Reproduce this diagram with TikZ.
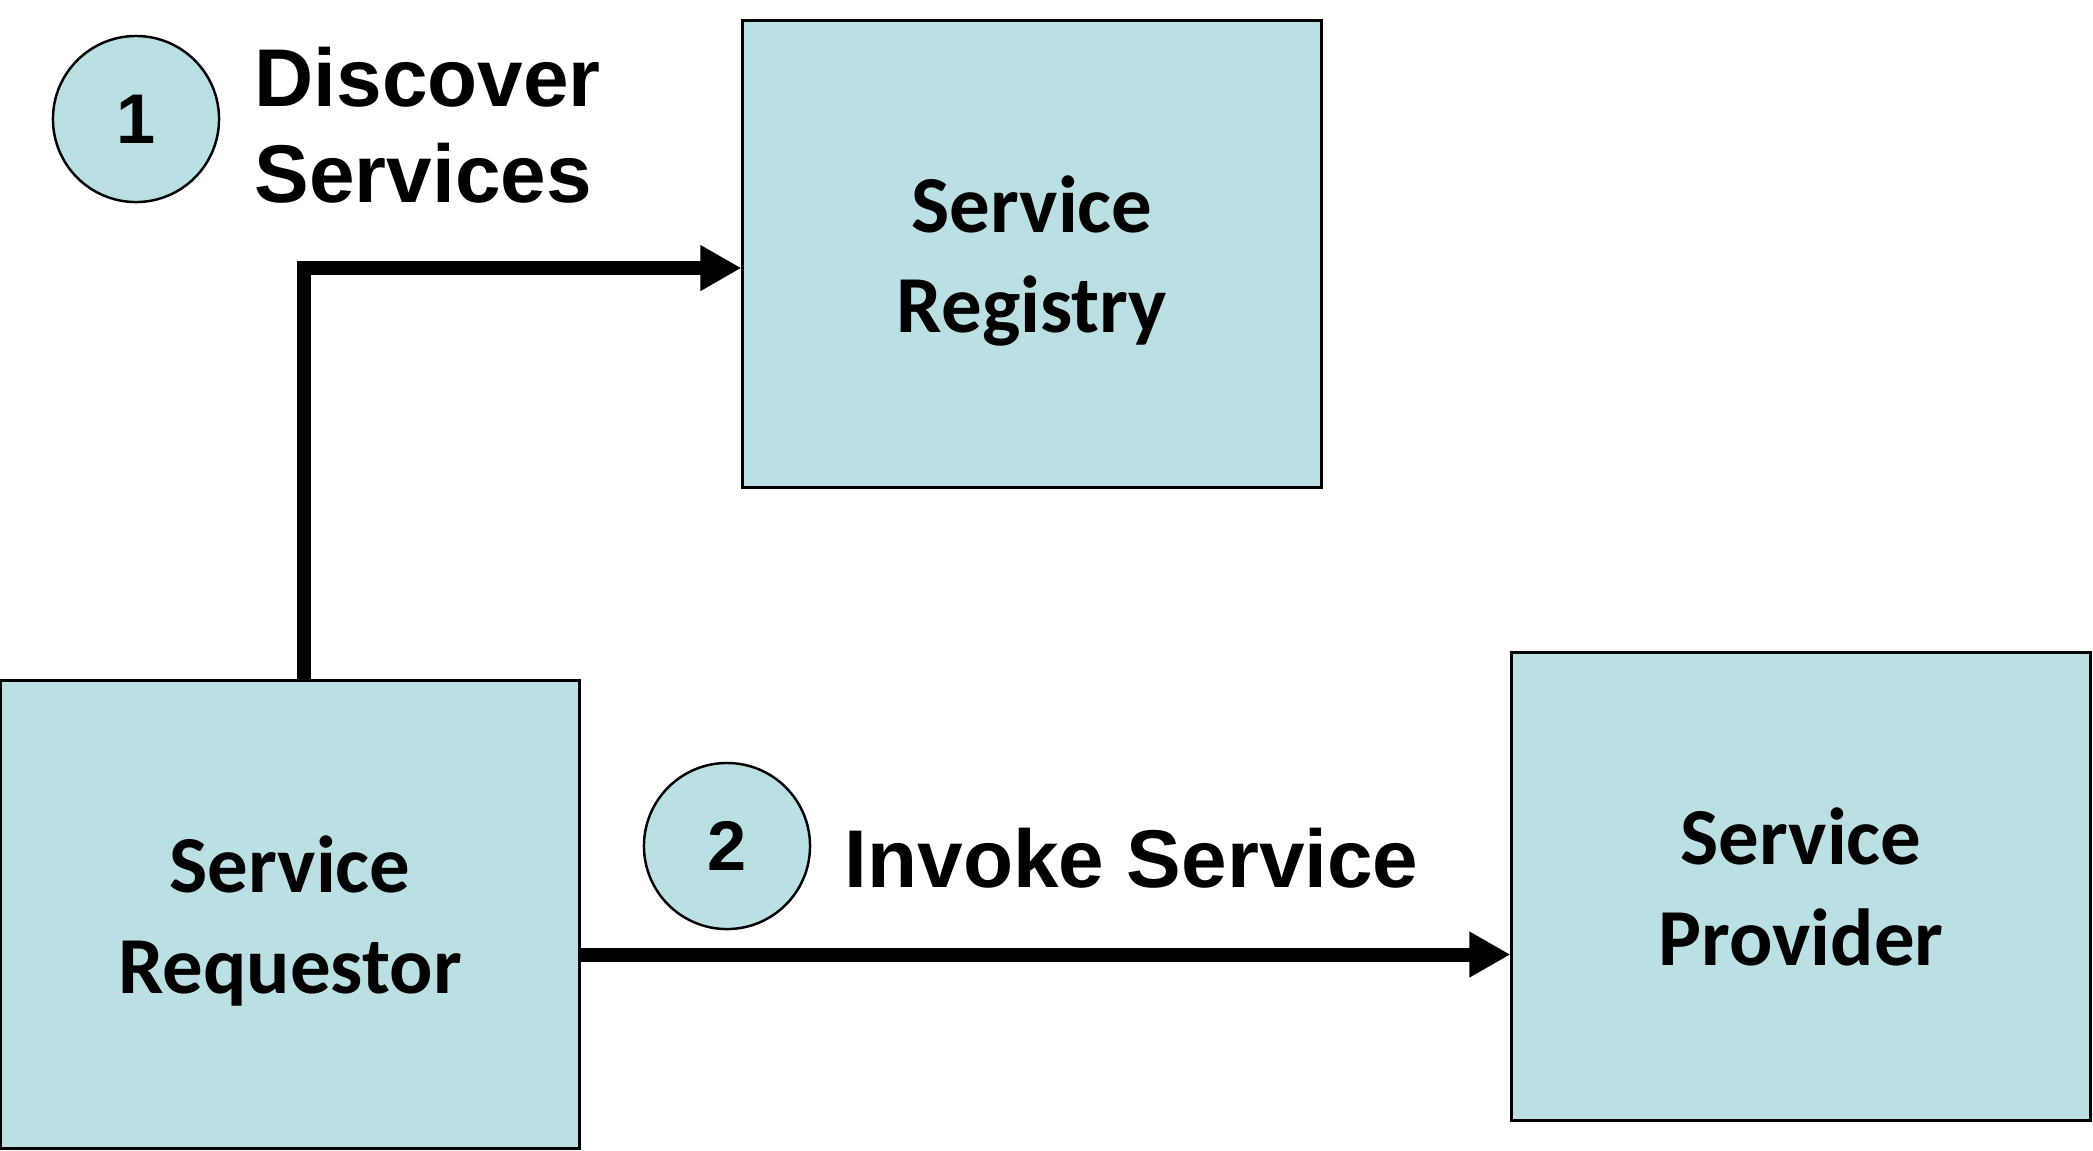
\documentclass[tikz,border=0pt]{standalone}
\usepackage{fontspec}
\setmainfont{Carlito}
\newfontfamily\arialfont{Liberation Sans}
\usetikzlibrary{arrows.meta}

\definecolor{boxblue}{RGB}{186,224,227}

\tikzset{
  svcbox/.style={draw, fill=boxblue, line width=0.8pt, inner sep=0pt,
    minimum width=5.78cm, minimum height=4.67cm, align=center, text depth=0pt,
    font=\fontsize{23}{28.5}\selectfont\bfseries},
  stepnum/.style={draw, circle, fill=boxblue, line width=0.7pt,
    minimum size=1.66cm, inner sep=0pt, font=\arialfont\fontsize{20}{24}\selectfont\bfseries},
  steplabel/.style={anchor=west, inner sep=0pt, align=left,
    font=\arialfont\fontsize{23.3}{27.3}\selectfont\bfseries},
  flow/.style={line width=4pt, -{Triangle[length=0.41cm, width=0.43cm]}}
}

\begin{document}
\begin{tikzpicture}[x=0.01cm, y=-0.01cm]

\useasboundingbox (0,0) rectangle (2093,1150);

\node[svcbox] (reg) at (1032, 254) {Service\\Registry};

\node[svcbox] (req) at (290, 914.5) {Service\\Requestor};

\node[svcbox] (prov) at (1801, 886.5) {Service\\Provider};

\node[stepnum] (one) at (136, 119) {1};
\node[steplabel] (discover) at (254, 125) {Discover\\Services};

\node[stepnum] (two) at (727, 846) {2};
\node[steplabel] (invoke) at (844, 858) {Invoke Service};

\draw[flow] ([xshift=0.14cm]req.north) |- ([yshift=-0.14cm]reg.west);

\draw[flow] ([yshift=-0.4cm]req.east) -- ([yshift=-0.4cm]req.east -| prov.west);

\end{tikzpicture}
\end{document}
